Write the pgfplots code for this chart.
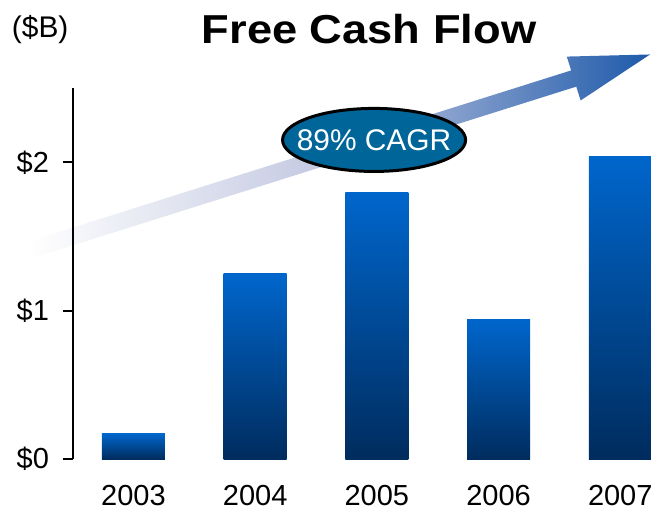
\documentclass[border=0pt]{standalone}
\usepackage{pgfplots}
\pgfplotsset{compat=1.18}
\usepackage{fontspec}
\setmainfont{Liberation Sans}
\newfontfamily\titlefont[FakeStretch=1.12]{Liberation Sans}

\definecolor{bartop}{RGB}{0,102,204}
\definecolor{barbot}{RGB}{0,44,94}
\definecolor{arrowblue}{RGB}{30,90,170}
\definecolor{arrowmid}{RGB}{192,198,224}
\definecolor{cagr}{RGB}{0,102,153}

\begin{document}
\begin{tikzpicture}
\useasboundingbox (0,0) rectangle (13.02cm,10.18cm);
\clip (0,0) rectangle (13.02cm,10.18cm);

% growth arrow behind the chart (1 unit = 1 px of the original)
\begin{scope}[x=0.02cm,y=0.02cm]
  \begin{scope}[shift={(30,259)},rotate=17.5]
    \shade[left color=white, right color=arrowblue, middle color=arrowmid]
      (0,-8.5) -- (570,-8.5) -- (570,-23) -- (650,0) -- (570,23)
      -- (570,8.5) -- (0,8.5) -- cycle;
  \end{scope}
\end{scope}

\begin{axis}[
  at={(1.452cm,1.0cm)}, anchor=south west,
  scale only axis, width=12.17cm, height=7.415cm,
  xmin=-0.5, xmax=4.5, ymin=0, ymax=2.5,
  ybar, bar width=1.26cm,
  axis y line*=left, axis x line*=bottom,
  x axis line style={draw=none},
  y axis line style={line width=1.1pt},
  xtick={0,1,2,3,4}, xticklabels={2003,2004,2005,2006,2007},
  ytick={0,1,2}, yticklabels={\$0,\$1,\$2},
  tick align=outside, major tick length=0.2cm,
  xtick style={draw=none},
  ytick style={line width=1.1pt, black},
  tick label style={font=\fontsize{16.5}{20}\selectfont},
  /pgf/number format/assume math mode=true,
  xticklabel style={yshift=-0.20cm},
  yticklabel style={xshift=-0.15cm},
  every axis plot/.append style={draw=none, bar shift=0pt,
    top color=bartop, bottom color=barbot},
]
% one plot per bar so that each bar gets its own gradient
\addplot coordinates {(0,0.17)};
\addplot coordinates {(1,1.25)};
\addplot coordinates {(2,1.80)};
\addplot coordinates {(3,0.94)};
\addplot coordinates {(4,2.04)};
\end{axis}

\begin{scope}[x=0.02cm,y=0.02cm]
  \filldraw[fill=cagr, draw=black, line width=0.06cm]
    (374,369) ellipse [x radius=91.5, y radius=31.5];
  \node[text=white, font=\fontsize{17}{20}\selectfont] at (374,369) {89\% CAGR};
  \node[anchor=base, font=\titlefont\fontsize{23}{26}\selectfont\bfseries]
    at (369,465.7) {Free Cash Flow};
  \node[anchor=base west, inner sep=0, font=\fontsize{17}{20}\selectfont]
    at (11.6,471) {(\$B)};
\end{scope}
\end{tikzpicture}
\end{document}
